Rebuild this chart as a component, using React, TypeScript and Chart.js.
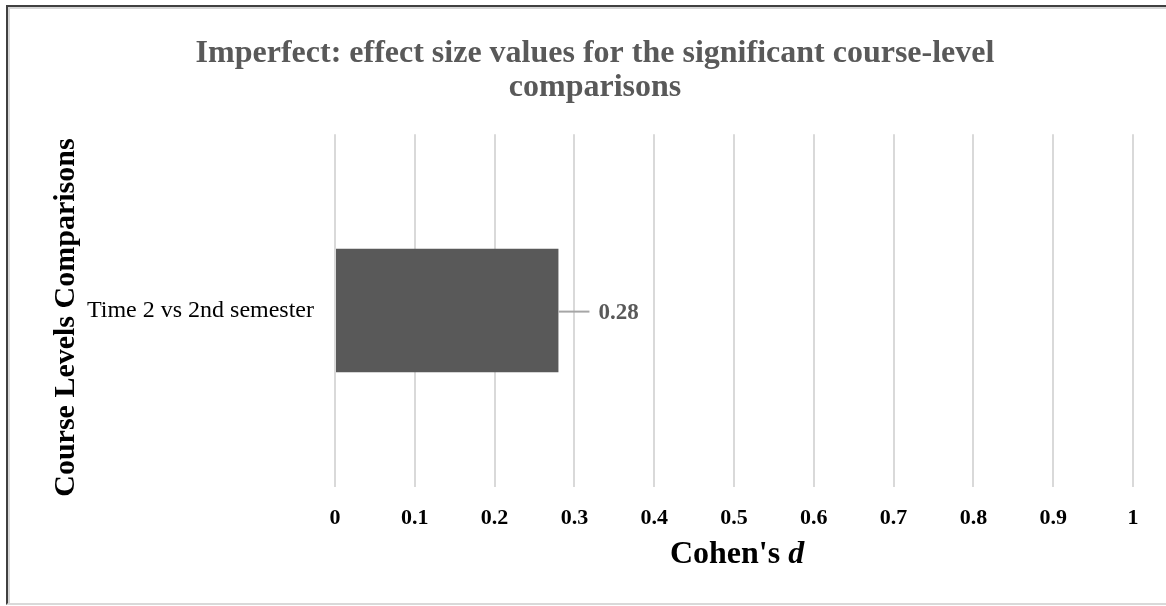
import React, { useEffect, useRef } from "react";
import { Chart, registerables } from "chart.js";

Chart.register(...registerables);

const categories: string[] = ["Time 2 vs 2nd semester"];
const cohensD: number[] = [0.28];
const xTickValues: number[] = [0, 0.1, 0.2, 0.3, 0.4, 0.5, 0.6, 0.7, 0.8, 0.9, 1];
const titleLines: string[] = [
  "Imperfect: effect size values for the significant course-level",
  "comparisons",
];
const yAxisTitle = "Course Levels Comparisons";
const xAxisTitleMain = "Cohen's ";
const xAxisTitleItalic = "d";

const SERIF = "'Liberation Serif', 'Times New Roman', serif";

export default function App() {
  const canvasRef = useRef<HTMLCanvasElement | null>(null);

  useEffect(() => {
    if (!canvasRef.current) return;

    const labelPlugin = {
      id: "barLabelAndAxisTitle",
      afterDatasetsDraw(chart: any) {
        const ctx = chart.ctx;
        const meta = chart.getDatasetMeta(0);
        ctx.save();
        meta.data.forEach((bar: any, i: number) => {
          const x = bar.x;
          const y = bar.y;
          ctx.strokeStyle = "#a6a6a6";
          ctx.lineWidth = 2;
          ctx.beginPath();
          ctx.moveTo(x, y + 1);
          ctx.lineTo(x + 31, y + 1);
          ctx.stroke();
          ctx.fillStyle = "#595959";
          ctx.font = `bold 23px ${SERIF}`;
          ctx.textAlign = "left";
          ctx.textBaseline = "middle";
          ctx.fillText(cohensD[i].toFixed(2), x + 40, y + 2);
        });
        ctx.restore();
      },
      afterDraw(chart: any) {
        const ctx = chart.ctx;
        const area = chart.chartArea;
        ctx.save();
        // x-axis title with italic "d"
        const fMain = `bold 32px ${SERIF}`;
        const fIt = `italic bold 32px ${SERIF}`;
        ctx.font = fMain;
        const w1 = ctx.measureText(xAxisTitleMain).width;
        ctx.font = fIt;
        const w2 = ctx.measureText(xAxisTitleItalic).width;
        const cx = (area.left + area.right) / 2 + 3;
        const start = cx - (w1 + w2) / 2;
        ctx.fillStyle = "#000";
        ctx.textBaseline = "alphabetic";
        ctx.textAlign = "left";
        ctx.font = fMain;
        ctx.fillText(xAxisTitleMain, start, 563);
        ctx.font = fIt;
        ctx.fillText(xAxisTitleItalic, start + w1, 563);
        // y-axis title
        ctx.translate(66, (area.top + area.bottom) / 2 + 7);
        ctx.rotate(-Math.PI / 2);
        ctx.font = `bold 30px ${SERIF}`;
        ctx.textAlign = "center";
        ctx.textBaseline = "middle";
        ctx.fillText(yAxisTitle, 0, 0);
        ctx.restore();
      },
    };

    const chart = new Chart(canvasRef.current, {
      type: "bar",
      data: {
        labels: categories,
        datasets: [
          {
            data: cohensD,
            backgroundColor: "#595959",
            borderWidth: 0,
            categoryPercentage: 1,
            barPercentage: 0.35,
          },
        ],
      },
      options: {
        indexAxis: "y",
        animation: false,
        responsive: false,
        layout: { padding: { left: 57, right: 33, top: 0, bottom: 0 } },
        plugins: {
          legend: { display: false },
          tooltip: { enabled: false },
          title: {
            display: true,
            text: titleLines,
            color: "#595959",
            font: { family: SERIF, size: 32, weight: "bold", lineHeight: 1.05 },
            padding: { top: 37, bottom: 30 },
          },
        },
        scales: {
          x: {
            type: "linear",
            min: 0,
            max: 1,
            position: "bottom",
            afterBuildTicks(scale: any) {
              scale.ticks = xTickValues.map((v) => ({ value: v }));
            },
            afterFit(scale: any) {
              scale.height = 119;
            },
            ticks: {
              color: "#000",
              font: { family: SERIF, size: 22, weight: "bold" },
              padding: 18,
              callback: (v: any) => String(Number(v)),
            },
            grid: { color: "#d9d9d9", lineWidth: 2, drawTicks: false },
            border: { display: false },
          },
          y: {
            type: "category",
            afterFit(scale: any) {
              scale.width = 335 - 57;
            },
            ticks: {
              color: "#000",
              font: { family: SERIF, size: 24 },
              padding: 21,
            },
            grid: { display: false, drawTicks: false },
            border: { display: false },
          },
        },
      },
      plugins: [labelPlugin],
    } as any);

    return () => chart.destroy();
  }, []);

  return (
    <div
      style={{
        position: "fixed",
        left: 0,
        top: 0,
        width: 1166,
        height: 606,
        background: "#fff",
        overflow: "hidden",
      }}
    >
      <canvas
        ref={canvasRef}
        width={1166}
        height={606}
        style={{ position: "absolute", left: 0, top: 0, width: 1166, height: 606 }}
      />
      <div
        style={{
          position: "absolute",
          left: 6,
          top: 5,
          width: 1170,
          height: 600,
          boxSizing: "border-box",
          borderLeft: "2px solid #404040",
          borderTop: "2px solid #404040",
          borderBottom: "2px solid #d9d9d9",
          boxShadow: "inset 2px 2px 0 #d6d6d6",
          pointerEvents: "none",
        }}
      />
    </div>
  );
}
